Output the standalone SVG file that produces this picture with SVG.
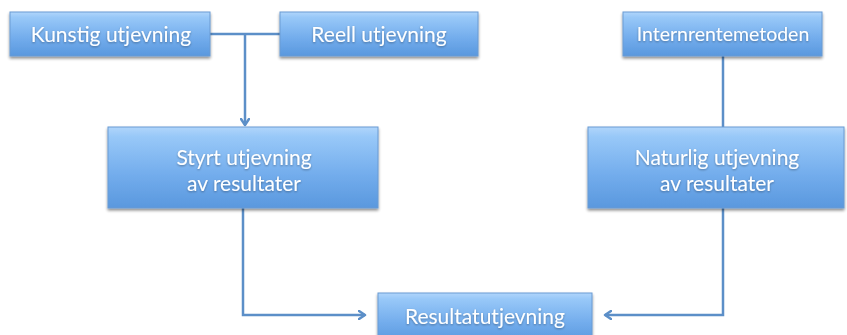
<svg xmlns="http://www.w3.org/2000/svg" width="847" height="335" viewBox="0 0 847 335">
<defs>
<linearGradient id="g" x1="0" y1="0" x2="0" y2="1">
<stop offset="0" stop-color="#b0d5fb"/>
<stop offset="0.12" stop-color="#98c8f8"/>
<stop offset="0.6" stop-color="#72acec"/>
<stop offset="1" stop-color="#5a98de"/>
</linearGradient>
<filter id="sh" x="-10%" y="-20%" width="120%" height="150%">
<feGaussianBlur in="SourceAlpha" stdDeviation="1.5"/>
<feOffset dx="0" dy="2" result="b"/>
<feComponentTransfer><feFuncA type="linear" slope="0.45"/></feComponentTransfer>
<feMerge><feMergeNode/><feMergeNode in="SourceGraphic"/></feMerge>
</filter>
<filter id="ts" x="-10%" y="-30%" width="120%" height="160%">
<feGaussianBlur in="SourceAlpha" stdDeviation="0.8"/>
<feOffset dx="0" dy="1"/>
<feComponentTransfer><feFuncA type="linear" slope="0.35"/></feComponentTransfer>
<feMerge><feMergeNode/><feMergeNode in="SourceGraphic"/></feMerge>
</filter>
<marker id="ah" markerWidth="10" markerHeight="10" refX="7" refY="5" orient="auto" markerUnits="userSpaceOnUse">
<path d="M1,1 L7,5 L1,9" fill="none" stroke="#5c8fc8" stroke-width="2.5" stroke-linecap="round" stroke-linejoin="round"/>
</marker>
</defs>
<style>
.box{fill:url(#g);stroke:#6a9bd3;stroke-width:1;filter:url(#sh)}
.t{font-family:Lato,"Open Sans",sans-serif;fill:#ffffff;font-size:21px;text-anchor:middle;filter:url(#ts)}
.c{fill:none;stroke:#5c8fc8;stroke-width:2.5}
</style>
<rect width="847" height="335" fill="#ffffff"/>
<g id="connectors">
<path class="c" d="M210,34 H280"/>
<path class="c" d="M245,34 V125" marker-end="url(#ah)"/>
<path class="c" d="M723,56 V127"/>
<path class="c" d="M243,208 V315 H365" marker-end="url(#ah)"/>
<path class="c" d="M723,208 V315 H605" marker-end="url(#ah)"/>
</g>
<g id="kunstig">
<rect class="box" x="10" y="12" width="200" height="44"/>
<text class="t" x="111" y="42">Kunstig utjevning</text>
</g>
<g id="reell">
<rect class="box" x="280" y="12" width="198" height="44"/>
<text class="t" x="379" y="42">Reell utjevning</text>
</g>
<g id="internrente">
<rect class="box" x="623" y="12" width="199" height="44"/>
<text class="t" x="723" y="41" style="font-size:19.500px">Internrentemetoden</text>
</g>
<g id="styrt">
<rect class="box" x="108" y="127" width="270" height="81"/>
<text class="t" x="244" y="165">Styrt utjevning</text>
<text class="t" x="244" y="191">av resultater</text>
</g>
<g id="naturlig">
<rect class="box" x="588" y="127" width="256" height="81"/>
<text class="t" x="717" y="165">Naturlig utjevning</text>
<text class="t" x="717" y="191">av resultater</text>
</g>
<g id="resultat">
<rect class="box" x="378" y="293" width="214" height="50"/>
<text class="t" x="485" y="324">Resultatutjevning</text>
</g>
</svg>
